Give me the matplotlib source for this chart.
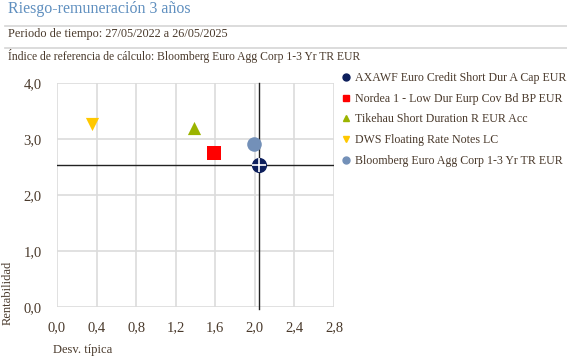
import matplotlib
matplotlib.use("Agg")
import matplotlib.pyplot as plt
from matplotlib.lines import Line2D

names = ["AXAWF Euro Credit Short Dur A Cap EUR",
         "Nordea 1 - Low Dur Eurp Cov Bd BP EUR",
         "Tikehau Short Duration R EUR Acc",
         "DWS Floating Rate Notes LC",
         "Bloomberg Euro Agg Corp 1-3 Yr TR EUR"]
risk = [2.04, 1.59, 1.38, 0.35, 1.99]
ret = [2.54, 2.75, 3.21, 3.27, 2.92]
colors = ["#0d1f5c", "#ff0000", "#9bb400", "#ffc800", "#7390b8"]
markers = ["o", "s", "^", "v", "o"]
xticks = [0.0, 0.4, 0.8, 1.2, 1.6, 2.0, 2.4, 2.8]
yticks = [0.0, 1.0, 2.0, 3.0, 4.0]

plt.rcParams['font.family'] = ['Liberation Serif', 'DejaVu Serif']
txt = "#4a3a2c"

fig = plt.figure(figsize=(5.67, 3.57), dpi=100)
ax = fig.add_axes([57/567, 1-307.3/357, 277/567, 224/357])
ax.set_xlim(0, 2.8)
ax.set_ylim(0, 4.0)
ax.set_xticks(xticks)
ax.set_yticks(yticks)
ax.set_xticklabels([f"{v:.1f}".replace('.', ',') for v in xticks])
ax.set_yticklabels([f"{v:.1f}".replace('.', ',') for v in yticks])
ax.tick_params(axis='x', length=0, labelsize=10.5, colors=txt, pad=10)
ax.tick_params(axis='y', length=0, labelsize=10.5, colors=txt, pad=11)
for s in ax.spines.values():
    s.set_visible(False)
ax.grid(True, color="#dcdcdc", lw=1.2)
ax.set_axisbelow(True)

# crosshair at first fund
ax.axhline(ret[0], color="#222222", lw=1.0, zorder=2)
ax.plot([risk[0], risk[0]], [-0.03, 4.0], color="#222222", lw=1.0, zorder=2, clip_on=False)

sizes = [120, 110, 90, 90, 110]
for i in range(len(names)):
    ax.scatter(risk[i], ret[i], marker=markers[i], s=sizes[i], color=colors[i],
               zorder=3, linewidths=0)
ax.scatter(risk[0], ret[0], marker="+", s=90, color="white", linewidths=1.2, zorder=4)

ax.set_xlabel("Desv. típica", fontsize=9, color=txt)
ax.xaxis.set_label_coords(-0.015, -0.19)
ax.xaxis.label.set_horizontalalignment('left')
ax.xaxis.label.set_verticalalignment('center')
ax.set_ylabel("Rentabilidad", fontsize=9, color=txt)
ax.yaxis.set_label_coords(-0.158, -0.08)
ax.yaxis.label.set_verticalalignment('bottom')
ax.yaxis.label.set_horizontalalignment('left')

handles = [Line2D([], [], marker=markers[i], color=colors[i], ls='none', markersize=5)
           for i in range(len(names))]
fig.legend(handles, names, loc="upper left", bbox_to_anchor=(340/567, 1-72/357),
           frameon=False, fontsize=8.6, labelcolor=txt, handletextpad=0.25,
           handlelength=1.0, labelspacing=0.73, borderaxespad=0, borderpad=0)

fig.text(8/567, 1-9/357, "Riesgo-remuneración 3 años", fontsize=11.5, color="#5f8fbf",
         va="center", ha="left")
fig.text(8/567, 1-34/357, "Periodo de tiempo: 27/05/2022 a 26/05/2025", fontsize=8.8,
         color=txt, va="center", ha="left")
fig.text(8/567, 1-56/357, "Índice de referencia de cálculo: Bloomberg Euro Agg Corp 1-3 Yr TR EUR",
         fontsize=8.4, color=txt, va="center", ha="left")
for yy in [25.5, 47.5]:
    fig.add_artist(Line2D([5/567, 1.0], [1-yy/357, 1-yy/357], color="#d5d5d5", lw=1.2))

fig.savefig("out.png", dpi=100)
